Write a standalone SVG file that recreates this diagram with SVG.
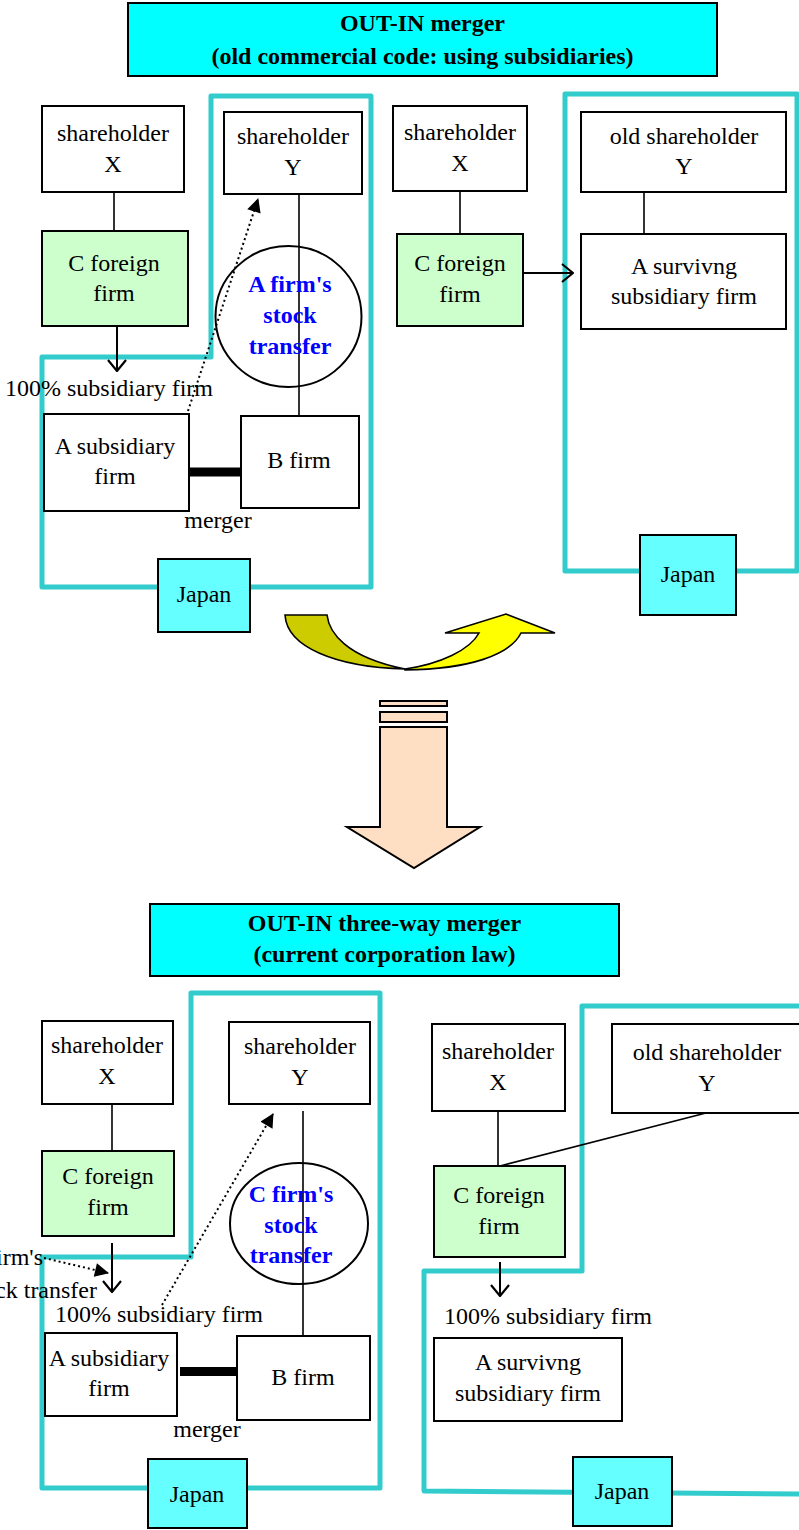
<svg xmlns="http://www.w3.org/2000/svg" width="799" height="1530" viewBox="0 0 799 1530">
<style>
text{font-family:"Liberation Serif","Times New Roman",serif;font-size:24px;fill:#000;text-anchor:middle}
.b{font-weight:bold}
.blue{font-weight:bold;fill:#0000FF}
.box{fill:#fff;stroke:#000;stroke-width:2}
.green{fill:#CCFFCC;stroke:#000;stroke-width:2}
.title{fill:#00FFFF;stroke:#000;stroke-width:2}
.japan{fill:#66FFFF;stroke:#000;stroke-width:2}
.teal{fill:none;stroke:#33CCCC;stroke-width:5;stroke-linejoin:round}
.ln{fill:none;stroke:#000;stroke-width:1.6}
.arr{fill:none;stroke:#000;stroke-width:2;marker-end:url(#vee)}
.dot{fill:none;stroke:#000;stroke-width:2;stroke-dasharray:2,3;marker-end:url(#tri)}
.thick{stroke:#000;stroke-width:9}
</style>
<defs>
<marker id="vee" viewBox="0 0 13 20" refX="12" refY="10" markerWidth="13" markerHeight="20" markerUnits="userSpaceOnUse" orient="auto">
<path d="M1,1 L12,10 L1,19" fill="none" stroke="#000" stroke-width="2.2"/>
</marker>
<marker id="tri" viewBox="0 0 14 14" refX="13" refY="7" markerWidth="15" markerHeight="14" markerUnits="userSpaceOnUse" orient="auto">
<path d="M0,0 L14,7 L0,14 Z" fill="#000"/>
</marker>
</defs>

<!-- regions -->
<g id="regions">
<path class="teal" d="M211,96 L371,96 L371,587 L42,587 L42,357 L211,357 Z"/>
<rect class="teal" x="565" y="94" width="232" height="477"/>
<path class="teal" d="M191,993 L380,993 L380,1488 L42,1488 L42,1257 L191,1257 Z"/>
<path class="teal" d="M806,1006 L582,1006 L582,1271 L424,1271 L424,1491 L806,1494"/>
</g>

<g id="title1"><rect class="title" x="128" y="3" width="589" height="73"/>
<text class="b" x="422.5" y="31">OUT-IN merger</text>
<text class="b" x="422.5" y="64">(old commercial code: using subsidiaries)</text></g>

<!-- connectors -->
<g id="connectors">
<line class="ln" x1="114" y1="192" x2="114" y2="231"/>
<line class="arr" x1="117" y1="326" x2="117" y2="371"/>
<line class="ln" x1="299" y1="194" x2="299" y2="416"/>
<path class="dot" d="M188,411 L258,199"/>
<line class="thick" x1="189" y1="472" x2="241" y2="472"/>
<line class="ln" x1="460" y1="191" x2="460" y2="234"/>
<line class="arr" x1="523" y1="273" x2="573" y2="273"/>
<line class="ln" x1="644" y1="192" x2="644" y2="234"/>

<line class="ln" x1="112" y1="1104" x2="112" y2="1151"/>
<line class="arr" x1="112" y1="1243" x2="112" y2="1292"/>
<line class="ln" x1="303" y1="1111" x2="303" y2="1336"/>
<path class="dot" d="M162,1305 L273,1114"/>
<path class="dot" d="M44,1258 L108,1273"/>
<line class="thick" x1="180" y1="1371.5" x2="237" y2="1371.5"/>
<line class="ln" x1="498" y1="1111" x2="498" y2="1166"/>
<line class="ln" x1="706" y1="1113" x2="500" y2="1166"/>
<line class="arr" x1="500" y1="1262" x2="500" y2="1296"/>
</g>

<!-- top left -->
<g id="shX1"><rect class="box" x="42" y="106" width="142" height="86"/>
<text x="113" y="141">shareholder</text><text x="113" y="172">X</text></g>
<g id="cF1"><rect class="green" x="42" y="231" width="146" height="95"/>
<text x="114" y="271">C foreign</text><text x="114" y="301">firm</text></g>
<g id="shY1"><rect class="box" x="224" y="112" width="138" height="82"/>
<text x="293" y="144">shareholder</text><text x="293" y="175">Y</text></g>
<g id="transfer1"><ellipse cx="288.5" cy="316.5" rx="73" ry="70.5" fill="none" stroke="#000" stroke-width="2"/>
<text class="blue" x="290" y="292">A firm's</text><text class="blue" x="290" y="323">stock</text><text class="blue" x="290" y="354">transfer</text></g>
<text id="sub1" x="5" y="396" style="text-anchor:start">100% subsidiary firm</text>
<g id="aSub1"><rect class="box" x="44" y="414" width="145" height="97"/>
<text x="115" y="454">A subsidiary</text><text x="115" y="484">firm</text></g>
<g id="bF1"><rect class="box" x="241" y="416" width="118" height="92"/>
<text x="299" y="468">B firm</text></g>
<text id="merger1" x="218" y="528">merger</text>
<g id="japan1"><rect class="japan" x="158" y="559" width="92" height="73"/>
<text x="204" y="602">Japan</text></g>

<!-- top right -->
<g id="shX2"><rect class="box" x="393" y="106" width="134" height="85"/>
<text x="460" y="140">shareholder</text><text x="460" y="171">X</text></g>
<g id="cF2"><rect class="green" x="397" y="234" width="126" height="92"/>
<text x="460" y="271">C foreign</text><text x="460" y="302">firm</text></g>
<g id="oldY1"><rect class="box" x="581" y="112" width="205" height="80"/>
<text x="684" y="144">old shareholder</text><text x="684" y="174">Y</text></g>
<g id="aSurv1"><rect class="box" x="581" y="234" width="205" height="95"/>
<text x="684" y="274">A survivng</text><text x="684" y="304">subsidiary firm</text></g>
<g id="japan2"><rect class="japan" x="640" y="535" width="96" height="80"/>
<text x="688" y="582">Japan</text></g>

<!-- middle arrows -->
<g id="curvedArrow">
<path d="M285,615 L327,615 C329,632 345,657 405,669 C335,667 287,647 285,615 Z" fill="#CCCC00" stroke="#000" stroke-width="1.6"/>
<path d="M405,669 C440,664 470,650 479,633 L445,633 L506,614 L555,633 L521,633 C510,655 470,669 405,670 Z" fill="#FFFF00" stroke="#000" stroke-width="1.6"/>
</g>
<g id="downArrow" fill="#FFDFC4" stroke="#000" stroke-width="2">
<rect x="380" y="701" width="67" height="5"/>
<rect x="380" y="712" width="67" height="10"/>
<path d="M380,727 L447,727 L447,827 L480,827 L414,868 L347,827 L380,827 Z"/>
</g>

<g id="title2"><rect class="title" x="150" y="904" width="469" height="72"/>
<text class="b" x="384.5" y="931">OUT-IN three-way merger</text>
<text class="b" x="384.5" y="962">(current corporation law)</text></g>

<!-- bottom left -->
<g id="shX3"><rect class="box" x="42" y="1021" width="131" height="83"/>
<text x="107" y="1053">shareholder</text><text x="107" y="1084">X</text></g>
<g id="cF3"><rect class="green" x="42" y="1151" width="132" height="85"/>
<text x="108" y="1184">C foreign</text><text x="108" y="1215">firm</text></g>
<g id="shY3"><rect class="box" x="229" y="1022" width="141" height="82"/>
<text x="300" y="1054">shareholder</text><text x="300" y="1085">Y</text></g>
<g id="transfer3"><ellipse cx="299" cy="1223.5" rx="69" ry="60.5" fill="none" stroke="#000" stroke-width="2"/>
<text class="blue" x="291" y="1202">C firm's</text><text class="blue" x="291" y="1233">stock</text><text class="blue" x="291" y="1263">transfer</text></g>
<g id="transferLabel"><text x="43" y="1265" style="text-anchor:end">C firm's</text>
<text x="97" y="1298" style="text-anchor:end">stock transfer</text></g>
<text id="sub3" x="159" y="1322">100% subsidiary firm</text>
<g id="aSub3"><rect class="box" x="45" y="1333" width="132" height="83"/>
<text x="109" y="1366">A subsidiary</text><text x="109" y="1396">firm</text></g>
<g id="bF3"><rect class="box" x="237" y="1336" width="133" height="84"/>
<text x="303" y="1385">B firm</text></g>
<text id="merger3" x="207" y="1437">merger</text>
<g id="japan3"><rect class="japan" x="148" y="1459" width="99" height="69"/>
<text x="197" y="1502">Japan</text></g>

<!-- bottom right -->
<g id="shX4"><rect class="box" x="432" y="1024" width="133" height="87"/>
<text x="498" y="1059">shareholder</text><text x="498" y="1090">X</text></g>
<g id="oldY4"><rect class="box" x="612" y="1024" width="194" height="89"/>
<text x="707" y="1060">old shareholder</text><text x="707" y="1091">Y</text></g>
<g id="cF4"><rect class="green" x="434" y="1166" width="131" height="91"/>
<text x="499" y="1203">C foreign</text><text x="499" y="1234">firm</text></g>
<text id="sub4" x="548" y="1324">100% subsidiary firm</text>
<g id="aSurv4"><rect class="box" x="434" y="1338" width="188" height="83"/>
<text x="528" y="1370">A survivng</text><text x="528" y="1401">subsidiary firm</text></g>
<g id="japan4"><rect class="japan" x="573" y="1457" width="99" height="69"/>
<text x="622" y="1499">Japan</text></g>
</svg>
